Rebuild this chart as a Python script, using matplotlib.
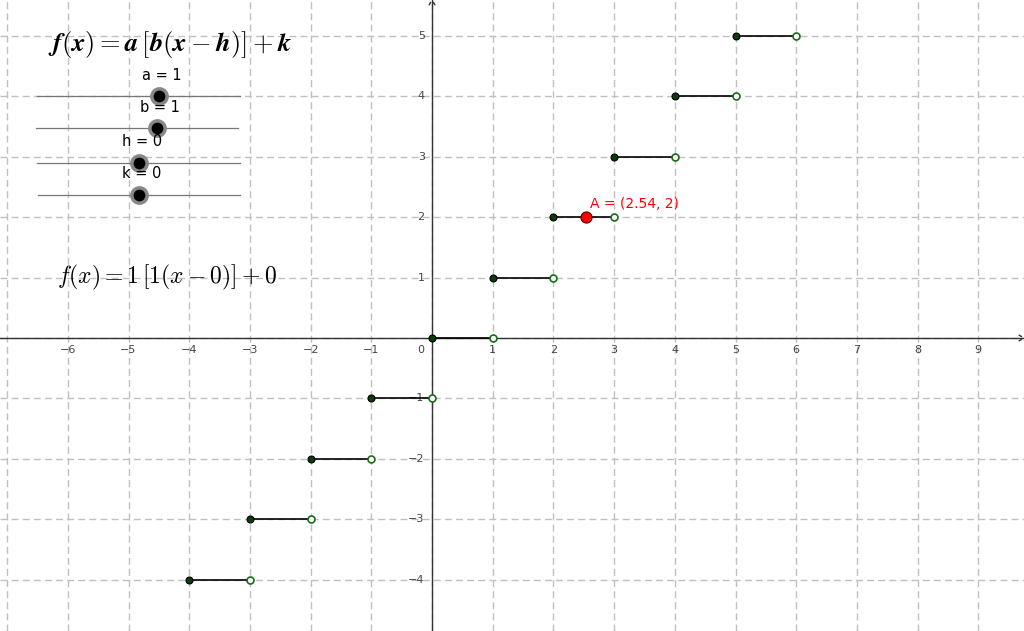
import matplotlib
matplotlib.use("Agg")
import matplotlib.pyplot as plt
import numpy as np
plt.rcParams["mathtext.fontset"] = "cm"

steps_x = [-4, -3, -2, -1, 0, 1, 2, 3, 4, 5]
steps_y = [-4, -3, -2, -1, 0, 1, 2, 3, 4, 5]
point_A = (2.54, 2)
xticks = [-6, -5, -4, -3, -2, -1, 1, 2, 3, 4, 5, 6, 7, 8, 9]
yticks = [-4, -3, -2, -1, 1, 2, 3, 4, 5]
sliders = [("a = 1", 96, 37, 240, 159), ("b = 1", 128, 36, 238, 157),
           ("h = 0", 163, 37, 240, 139), ("k = 0", 195, 38, 240, 139)]

W, H = 1024, 631
x0, y0, sx, sy = 432, 338, 60.7, 60.4
fig = plt.figure(figsize=(W/100, H/100), dpi=100)
ax = fig.add_axes([0, 0, 1, 1])
ax.set_xlim(-x0/sx, (W-x0)/sx)
ax.set_ylim(-(H-y0)/sy, y0/sy)
ax.axis("off")
for gx in range(-7, 10):
    ax.axvline(gx, color="#c0c0c0", lw=1, ls=(0, (5, 3)), zorder=0)
for gy in range(-4, 6):
    ax.axhline(gy, color="#c0c0c0", lw=1, ls=(0, (5, 3)), zorder=0)
ax.axhline(0, color="#333333", lw=1, zorder=1)
ax.axvline(0, color="#333333", lw=1, zorder=1)
xr = (W-x0)/sx; yt = y0/sy
ax.annotate("", xy=(xr, 0), xytext=(xr-0.12, 0.07), arrowprops=dict(arrowstyle="-", color="#333", lw=1))
ax.annotate("", xy=(xr, 0), xytext=(xr-0.12, -0.07), arrowprops=dict(arrowstyle="-", color="#333", lw=1))
ax.annotate("", xy=(0, yt), xytext=(-0.07, yt-0.12), arrowprops=dict(arrowstyle="-", color="#333", lw=1))
ax.annotate("", xy=(0, yt), xytext=(0.07, yt-0.12), arrowprops=dict(arrowstyle="-", color="#333", lw=1))
for t in xticks:
    ax.text(t, -0.12, str(t).replace("-", "\u2212"), ha="center", va="top", fontsize=8, color="#444")
for t in yticks:
    ax.text(-0.12, t, str(t).replace("-", "\u2212"), ha="right", va="center", fontsize=8, color="#444")
ax.text(-0.12, -0.12, "0", ha="right", va="top", fontsize=8, color="#444")
for x, y in zip(steps_x, steps_y):
    ax.plot([x, x+1], [y, y], color="black", lw=1.2, zorder=3)
    ax.plot(x, y, "o", ms=5, mfc="#0b3d0b", mec="black", mew=0.8, zorder=4)
    ax.plot(x+1, y, "o", ms=5, mfc="white", mec="#1a6b1a", mew=1.2, zorder=4)
ax.plot(*point_A, "o", ms=8, mfc="red", mec="#550000", mew=0.8, zorder=5)
ax.text(point_A[0]+0.06, point_A[1]+0.1, "A = (2.54, 2)", color="red", fontsize=10, va="bottom")

ov = fig.add_axes([0, 0, 1, 1], facecolor="none")
ov.set_xlim(0, W); ov.set_ylim(H, 0); ov.axis("off")
ov.text(170, 45, r"$\boldsymbol{f(x) = a\,[b(x-h)] + k}$", fontsize=19, ha="center", va="center")
ov.text(167, 277, r"$f(x) = 1\,[\mathbf{1}(x-0)] + \mathbf{0}$", fontsize=17, ha="center", va="center")
for lab, y, xa, xb, k in sliders:
    ov.plot([xa, xb], [y, y], color="#777", lw=0.9)
    ov.plot(k, y, "o", ms=11, mfc="black", mec="#888", mew=2.5)
    ov.text(k+3, y-21, lab, ha="center", va="center", fontsize=10.5)
fig.savefig("out.png", dpi=100)
